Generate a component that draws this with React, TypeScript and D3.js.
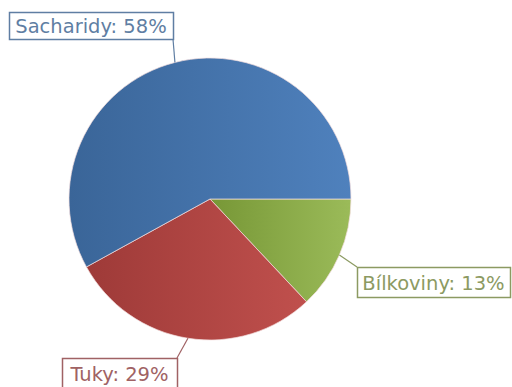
import React from "react";
import * as d3 from "d3";

const categories = ["Bílkoviny", "Tuky", "Sacharidy"];
const values = [13, 29, 58];
const labels = ["Bílkoviny: 13%", "Tuky: 29%", "Sacharidy: 58%"];

const baseColors = ["#9bbb59", "#c0504d", "#4f81bd"];
const darkColors = ["#779736", "#9e3a38", "#3a6598"];
const labelColors = ["#8c9a62", "#a06264", "#5f7ea3"];

// label box layout [x, y, w, h, anchorX, anchorY]
const boxes: [number, number, number, number, number, number][] = [
  [357, 267, 153, 30, 357, 267],
  [62, 358, 115, 30, 177, 358],
  [9, 12, 164, 27, 173, 39],
];

const W = 512;
const H = 387;
const cx = 210;
const cy = 199;
const R = 141;

export default function App() {
  const pie = d3
    .pie<number>()
    .sort(null)
    .value((d) => d)
    .startAngle(Math.PI / 2)
    .endAngle(Math.PI / 2 + 2 * Math.PI);
  const arcs = pie(values);
  const arc = d3.arc<d3.PieArcDatum<number>>().innerRadius(0).outerRadius(R);

  return (
    <svg
      width={W}
      height={H}
      style={{ position: "absolute", left: 0, top: 0, background: "#fff" }}
      fontFamily="'DejaVu Sans', Verdana, sans-serif"
    >
      <defs>
        {categories.map((c, i) => (
          <linearGradient key={c} id={`g${i}`} x1="0" y1="0" x2="1" y2="0">
            <stop offset="0" stopColor={darkColors[i]} />
            <stop offset="1" stopColor={baseColors[i]} />
          </linearGradient>
        ))}
      </defs>
      <g transform={`translate(${cx},${cy})`}>
        {arcs.map((a, i) => (
          <path
            key={categories[i]}
            d={arc(a) || ""}
            fill={`url(#g${i})`}
            stroke="#f3dede"
            strokeOpacity={0.7}
            strokeWidth={1}
          />
        ))}
      </g>
      {arcs.map((a, i) => {
        const mid = (a.startAngle + a.endAngle) / 2;
        const px = cx + Math.sin(mid) * R;
        const py = cy - Math.cos(mid) * R;
        const [bx, by, bw, bh, ax, ay] = boxes[i];
        return (
          <g key={`l${i}`}>
            <line x1={px} y1={py} x2={ax} y2={ay} stroke={labelColors[i]} strokeWidth={1.2} />
            <rect
              x={bx + 0.5}
              y={by + 0.5}
              width={bw}
              height={bh}
              fill="#fff"
              stroke={labelColors[i]}
              strokeWidth={1.5}
            />
            <text
              x={bx + bw / 2}
              y={by + bh / 2 + 1}
              textAnchor="middle"
              dominantBaseline="central"
              fontSize={19.5}
              fill={labelColors[i]}
            >
              {labels[i]}
            </text>
          </g>
        );
      })}
    </svg>
  );
}
